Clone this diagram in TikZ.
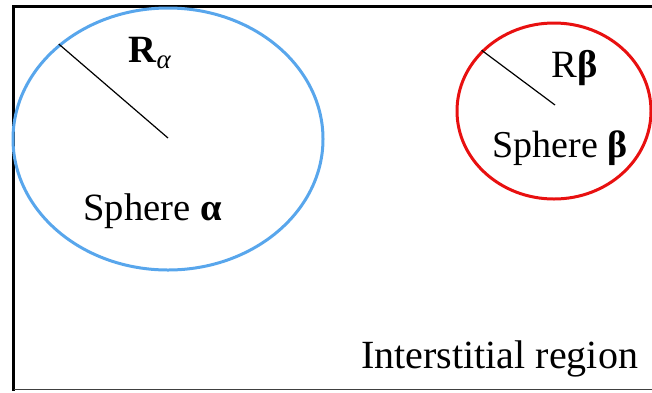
\documentclass[tikz,border=0pt]{standalone}
\usepackage{fontspec}
\setmainfont{Liberation Serif}
\usetikzlibrary{shapes.geometric}
\definecolor{sphblue}{RGB}{88,166,236}
\definecolor{sphred}{RGB}{232,16,16}
\tikzset{
  sphere/.style={ellipse, draw, line width=1.5pt, inner sep=0pt},
  radius/.style={draw=black, line width=0.6pt},
  lbl/.style={anchor=base west, inner sep=0pt, font=\fontsize{19.3}{22}\selectfont},
  framefull/.style={line width=1.6pt, black},
}
\begin{document}
\begin{tikzpicture}[x=0.5pt, y=-0.5pt]
\useasboundingbox (0,0) rectangle (652,392);
% frame
\coordinate (tl) at (13.5,6.5);
\coordinate (tr) at (670,6.5);
\coordinate (bl) at (13.5,389.5);
\coordinate (br) at (670,389.5);
\draw[framefull, line cap=rect] (tr) -- (tl) -- (bl);
\draw[line width=0.6pt, black!75] (bl) -- (br);
% spheres
\node[sphere, draw=sphblue, minimum width=155pt, minimum height=131pt] (sa) at (168,139) {};
\node[sphere, draw=sphred, minimum width=97pt, minimum height=88pt] (sb) at (554,111) {};
\coordinate (ca) at (168,138);
\coordinate (cb) at (555,105);
\draw[radius] (sa.139.8) -- (ca);
\draw[radius] (sb.140.5) -- (cb);
% labels
\node[lbl] (ra) at (128,62) {\textbf{R}\textsubscript{\textit{α}}};
\node[lbl] (ta) at (83,220) {Sphere \textbf{α}};
\node[lbl] (rb) at (551,77) {R\textbf{β}};
\node[lbl, font=\fontsize{19}{22}\selectfont] (tb) at (492,157) {Sphere \textbf{β}};
\node[lbl, font=\fontsize{20}{22}\selectfont] (ir) at (361,368) {Interstitial region};
\end{tikzpicture}
\end{document}
